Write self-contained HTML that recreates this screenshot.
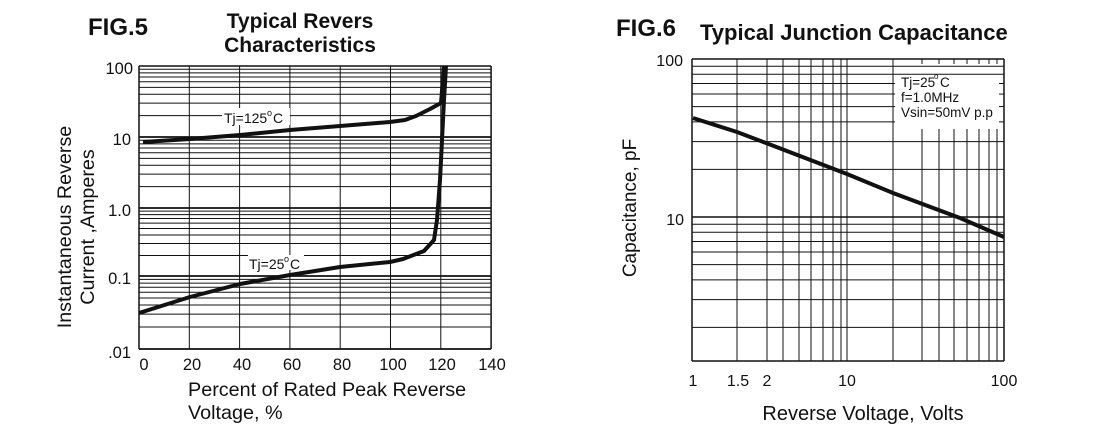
<!DOCTYPE html>
<html><head><meta charset="utf-8"><style>
html,body{margin:0;padding:0;background:#fff}
svg{display:block}
text{font-family:"Liberation Sans",Arial,sans-serif;fill:#111}
</style></head><body>
<svg id="s" width="1100" height="431" xmlns="http://www.w3.org/2000/svg">
<g id="g5" stroke="#111" stroke-width="1" fill="none"></g>
<g id="g6" stroke="#111" stroke-width="1" fill="none"></g>
<!-- FIG5 curves -->
<polyline fill="none" stroke="#111" stroke-width="4" stroke-linejoin="round" points="143,142 190,139 240,135 290,130 340,126 390,122 405,120 416,116 430,109 441,103 444,66"/>
<polyline fill="none" stroke="#111" stroke-width="4" stroke-linejoin="round" points="139,313 190,297 240,284 290,275 340,267 390,262 403,259 424,251 434,240 437,220 440,180 442,140 444,100 446,66"/>
<rect x="222" y="108" width="68" height="17" fill="#fff"/>
<text x="224" y="123" font-size="14">Tj=125</text><text x="267" y="116" font-size="9">o</text><text x="273" y="123" font-size="14">C</text>
<rect x="248" y="255" width="56" height="15" fill="#fff"/>
<text x="249" y="269" font-size="14">Tj=25</text><text x="284" y="262" font-size="9">o</text><text x="290" y="269" font-size="14">C</text>
<!-- FIG6 curve -->
<polyline fill="none" stroke="#111" stroke-width="4" points="693,118 737,132 766,143 847,174 893,193 960,218 1004,237"/>
<text x="901" y="87" font-size="13.5">Tj=25</text><text x="934" y="79" font-size="8">o</text><text x="940" y="87" font-size="13.5">C</text>
<text x="901" y="102" font-size="13.5">f=1.0MHz</text>
<text x="901" y="117" font-size="13.5">Vsin=50mV p.p</text>
<!-- titles -->
<text x="88" y="35" font-size="24" font-weight="bold">FIG.5</text>
<text x="300" y="28" font-size="21" font-weight="bold" text-anchor="middle">Typical Revers</text>
<text x="300" y="52" font-size="21" font-weight="bold" text-anchor="middle">Characteristics</text>
<text x="616" y="36" font-size="24" font-weight="bold">FIG.6</text>
<text x="700" y="40" font-size="22" font-weight="bold">Typical Junction Capacitance</text>
<!-- fig5 y labels -->
<g font-size="16.5" text-anchor="end">
<text x="133" y="74">100</text><text x="131" y="145">10</text><text x="131" y="216">1.0</text><text x="131" y="284">0.1</text><text x="131" y="358">.01</text>
</g>
<g font-size="16.5" text-anchor="middle">
<text x="144" y="370">0</text><text x="192" y="370">20</text><text x="242" y="370">40</text><text x="292" y="370">60</text><text x="342" y="370">80</text><text x="393" y="370">100</text><text x="442" y="370">120</text><text x="492" y="370">140</text>
</g>
<text x="188" y="396" font-size="19.8">Percent of Rated Peak Reverse</text>
<text x="188" y="419" font-size="19.8">Voltage, %</text>
<text transform="translate(71,227) rotate(-90)" font-size="19.7" text-anchor="middle">Instantaneous Reverse</text>
<text transform="translate(94,227) rotate(-90)" font-size="19.7" text-anchor="middle">Current ,Amperes</text>
<!-- fig6 labels -->
<g font-size="16" text-anchor="end">
<text x="683" y="66">100</text><text x="684" y="225">10</text>
</g>
<g font-size="16" text-anchor="middle">
<text x="693" y="386">1</text><text x="738" y="386">1.5</text><text x="767" y="386">2</text><text x="847" y="386">10</text><text x="1004" y="386">100</text>
</g>
<text x="863" y="420" font-size="20" text-anchor="middle">Reverse Voltage, Volts</text>
<text transform="translate(636,208) rotate(-90)" font-size="19" text-anchor="middle">Capacitance, pF</text>
</svg>
<script>
var NS="http://www.w3.org/2000/svg";
function ln(g,x1,y1,x2,y2,w){var l=document.createElementNS(NS,"line");l.setAttribute("x1",x1);l.setAttribute("y1",y1);l.setAttribute("x2",x2);l.setAttribute("y2",y2);if(w)l.setAttribute("stroke-width",w);g.appendChild(l);}
var g5=document.getElementById("g5"),g6=document.getElementById("g6");
var D=[349,276,208,137,66];
for(var d=0;d<4;d++){var lo=D[d],hi=D[d+1];for(var m=1;m<10;m++){var y=lo-Math.log10(m)*(lo-hi);ln(g5,139,y,491,y,m==1?1.8:1);}}
ln(g5,139,66,491,66,1.5);
for(var k=0;k<=7;k++){var x=139+k*50.3;ln(g5,x,66,x,349,k==0||k==7?1.5:1);}
var T6=59,B6=361,L6=692,R6=1004;
var xs=[692,737,767,783,799,811,823,833,841,847,893,922,939,954,967,979,989,997,1004];
xs.forEach(function(x){if(x>895&&x<1004){ln(g6,x,T6,x,T6+5);ln(g6,x,129,x,B6);}else ln(g6,x,T6,x,B6,(x==692||x==1004)?1.5:1);});
for(var m=1;m<=10;m++){var y=217-Math.log10(m)*158;if(m>1&&m<=7&&y<125){ln(g6,L6,y,895,y);ln(g6,R6-5,y,R6,y);}else ln(g6,L6,y,R6,y,(m==1||m==10)?1.5:1);}
[9,8,7,6,5,4,3,2].forEach(function(m){var y=217-Math.log10(m/10)*158;ln(g6,L6,y,R6,y);});
ln(g6,L6,B6,R6,B6,1.5);
</script>
</body></html>
